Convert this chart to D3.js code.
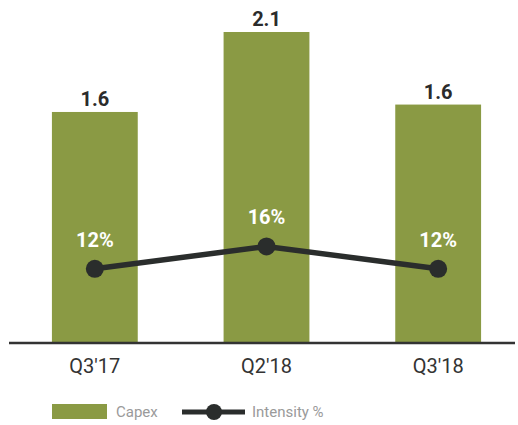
<!DOCTYPE html>
<html>
<head>
<meta charset="utf-8">
<script src="https://cdn.jsdelivr.net/npm/d3@7"></script>
<style>
  html, body { margin: 0; padding: 0; background: #fff; }
  svg { display: block; }
</style>
</head>
<body>
<svg id="chart"></svg>
<script>
// ─── Data ──────────────────────────────────────────────────────────
const quarters = ["Q3'17", "Q2'18", "Q3'18"];
const capex = [1.56, 2.1, 1.61];        // bar heights
const capexLabels = ["1.6", "2.1", "1.6"];
const intensity = [12, 16, 12];          // %

const width = 518, height = 425;
const baseline = 343;

const svg = d3.select("#chart").attr("width", width).attr("height", height);

// ─── Scales ────────────────────────────────────────────────────────
const x = d3.scaleBand()
  .domain(quarters)
  .range([9, 524])
  .paddingInner(0.5)
  .paddingOuter(0.25);

const y = d3.scaleLinear().domain([0, 2.1]).range([baseline, 32]);
const y2 = d3.scaleLinear().domain([0, 60]).range([336, 0]);

const green = "#8a9a44";
const dark = "#2a2d2c";
const font = "Roboto, 'DejaVu Sans', sans-serif";

// ─── Bars ──────────────────────────────────────────────────────────
svg.append("g")
  .selectAll("rect")
  .data(quarters)
  .join("rect")
  .attr("x", d => x(d))
  .attr("y", (d, i) => y(capex[i]))
  .attr("width", x.bandwidth())
  .attr("height", (d, i) => baseline - y(capex[i]))
  .attr("fill", green);

svg.append("g")
  .selectAll("text")
  .data(quarters)
  .join("text")
  .attr("x", d => x(d) + x.bandwidth() / 2)
  .attr("y", (d, i) => y(capex[i]) - 6)
  .attr("text-anchor", "middle")
  .attr("font-family", font)
  .attr("font-size", 20)
  .attr("font-weight", "bold")
  .attr("fill", "#2b2b2b")
  .text((d, i) => capexLabels[i]);

// ─── X Axis ────────────────────────────────────────────────────────
svg.append("line")
  .attr("x1", 9).attr("x2", 515)
  .attr("y1", baseline).attr("y2", baseline)
  .attr("stroke", "#333").attr("stroke-width", 2.5);

const xAxis = svg.append("g")
  .attr("transform", `translate(0,${baseline})`)
  .call(d3.axisBottom(x).tickSize(0).tickPadding(16));
xAxis.select(".domain").remove();
xAxis.selectAll(".tick text")
  .attr("font-family", font)
  .attr("font-size", 20)
  .attr("fill", "#333");

// ─── Intensity line ───────────────────────────────────────────────
const pts = quarters.map((q, i) => ({ q, v: intensity[i] }));
const line = d3.line()
  .x(d => x(d.q) + x.bandwidth() / 2)
  .y(d => y2(d.v));

svg.append("path")
  .datum(pts)
  .attr("d", line)
  .attr("fill", "none")
  .attr("stroke", dark)
  .attr("stroke-width", 5.5);

svg.append("g")
  .selectAll("circle")
  .data(pts)
  .join("circle")
  .attr("cx", d => x(d.q) + x.bandwidth() / 2)
  .attr("cy", d => y2(d.v))
  .attr("r", 9)
  .attr("fill", dark);

svg.append("g")
  .selectAll("text")
  .data(pts)
  .join("text")
  .attr("x", d => x(d.q) + x.bandwidth() / 2)
  .attr("y", d => y2(d.v) - 22)
  .attr("text-anchor", "middle")
  .attr("font-family", font)
  .attr("font-size", 20)
  .attr("font-weight", "bold")
  .attr("fill", "#fff")
  .text(d => d.v + "%");

// ─── Legend ────────────────────────────────────────────────────────
const legend = svg.append("g").attr("transform", "translate(0,412)");
legend.append("rect")
  .attr("x", 52).attr("y", -8)
  .attr("width", 55).attr("height", 15)
  .attr("fill", green);
legend.append("text")
  .attr("x", 116).attr("dy", "0.35em")
  .attr("font-family", font).attr("font-size", 15)
  .attr("fill", "#9a9a9a")
  .text("Capex");
legend.append("line")
  .attr("x1", 182).attr("x2", 245)
  .attr("stroke", dark).attr("stroke-width", 5);
legend.append("circle")
  .attr("cx", 214).attr("r", 8)
  .attr("fill", dark);
legend.append("text")
  .attr("x", 252).attr("dy", "0.35em")
  .attr("font-family", font).attr("font-size", 15)
  .attr("fill", "#9a9a9a")
  .text("Intensity %");
</script>
</body>
</html>
